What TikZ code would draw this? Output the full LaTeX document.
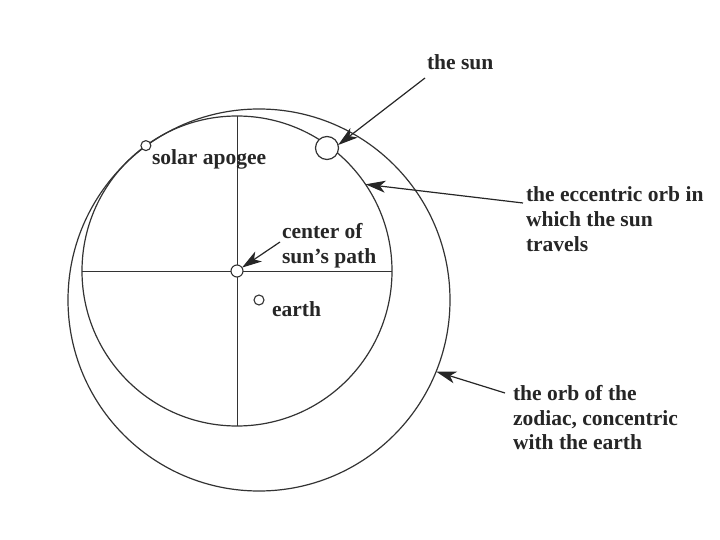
\documentclass[tikz,border=0pt]{standalone}
\usepackage{fontspec}
\setmainfont{Liberation Serif}
\usetikzlibrary{arrows.meta}
\begin{document}
\begin{tikzpicture}[x=1bp,y=-1bp,
  orb/.style={circle,draw=black!80,line width=1.2bp,inner sep=0,outer sep=0},
  dot/.style={circle,draw=black!80,fill=white,line width=1.1bp,inner sep=0,outer sep=0},
  lbl/.style={font=\bfseries\fontsize{21.6}{25}\selectfont,inner sep=0,outer sep=0,anchor=north west,align=left,text=black!85},
  pointer/.style={draw=black!85,line width=1.2bp,-{Stealth[length=20bp,width=12bp,inset=5.5bp]}}]
\useasboundingbox (0,0) rectangle (720,540);
% orbs
\node[orb,minimum size=382bp] (outer) at (259,300) {};
\node[orb,minimum size=310bp] (inner) at (237,271) {};
\draw[black!80,line width=1bp] (inner.west) -- (inner.east);
\draw[black!80,line width=1bp] (inner.north) -- (inner.south);
% points
\node[dot,minimum size=12bp] (cen) at (237,271) {};
\node[dot,minimum size=10bp] (earth) at (259,300) {};
\node[dot,minimum size=10bp] (apogee) at (inner.126) {};
\node[dot,minimum size=23bp,line width=1.2bp] (sun) at (327,148) {};
% labels
\node[lbl] (lsun) at (427,55) {the sun};
\node[lbl] (lapo) at (152,150) {solar apogee};
\node[lbl] (lcen) at (282,223) {center of\\sun’s path};
\node[lbl] (learth) at (272,302) {earth};
\node[lbl] (lecc) at (526,187) {the eccentric orb in\\which the sun\\travels};
\node[lbl] (lzod) at (513,385) {the orb of the\\zodiac, concentric\\with the earth};
% pointer start points
\coordinate (psun) at (425,78);
\coordinate (pcen) at (280,242);
\coordinate (pecc) at (523,203);
\coordinate (pzod) at (505,393);
% pointers
\draw[pointer] (psun) -- (sun.15);
\draw[pointer] (pcen) -- (cen);
\draw[pointer] (pecc) -- (inner.34.5);
\draw[pointer] (pzod) -- (outer.-22.8);
\end{tikzpicture}
\end{document}
